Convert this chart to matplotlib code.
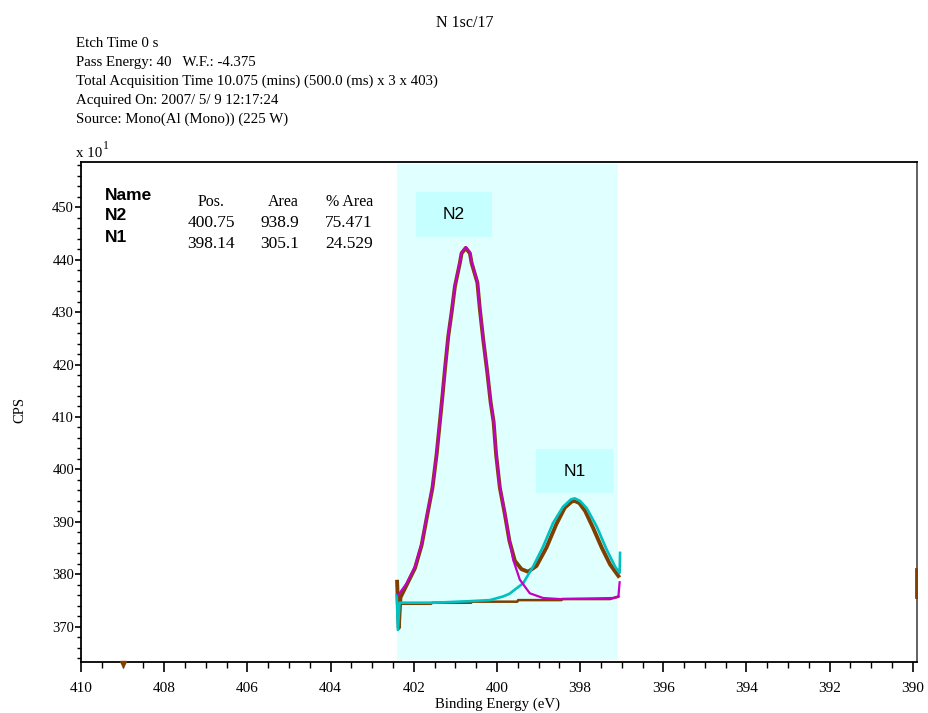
import matplotlib
matplotlib.use("Agg")
import matplotlib.pyplot as plt
from matplotlib.ticker import MultipleLocator

plt.rcParams['font.family'] = ['Liberation Serif', 'DejaVu Serif']

# header info
title = "N 1sc/17"
header_lines = ["Etch Time 0 s",
                "Pass Energy: 40   W.F.: -4.375",
                "Total Acquisition Time 10.075 (mins) (500.0 (ms) x 3 x 403)",
                "Acquired On: 2007/ 5/ 9 12:17:24",
                "Source: Mono(Al (Mono)) (225 W)"]

# peak table
peak_names = ["N2", "N1"]
peak_pos = ["400.75", "398.14"]
peak_area = ["938.9", "305.1"]
peak_pct = ["75.471", "24.529"]

# envelope (brown), CPS x 10
env_x = [402.40, 402.36, 402.32, 402.17, 401.97, 401.81, 401.69, 401.55, 401.45,
         401.37, 401.31, 401.25, 401.17, 401.09, 401.01, 400.89, 400.85, 400.75,
         400.65, 400.61, 400.47, 400.41, 400.33, 400.23, 400.15, 400.08, 400.02,
         399.93, 399.81, 399.70, 399.57, 399.41, 399.25, 399.05, 398.81, 398.57,
         398.37, 398.20, 398.13, 398.02, 397.88, 397.69, 397.48, 397.28, 397.08]
env_y = [378.6, 369.8, 375.6, 378.0, 381.2, 385.6, 390.7, 396.5, 402.9,
         409.2, 414.0, 419.1, 425.4, 429.9, 434.9, 439.4, 441.2, 442.2,
         441.2, 439.4, 435.6, 430.5, 424.8, 418.4, 412.7, 409.1, 402.9,
         396.5, 391.5, 386.4, 382.6, 381.0, 380.5, 381.6, 385.1, 389.6,
         392.7, 393.9, 394.0, 393.6, 392.1, 388.9, 385.1, 381.9, 379.7]

# N2 component (magenta)
n2_x = [402.37, 402.17, 401.97, 401.81, 401.69, 401.55, 401.45, 401.37, 401.31,
        401.25, 401.17, 401.09, 401.01, 400.89, 400.85, 400.75, 400.65, 400.61,
        400.47, 400.41, 400.33, 400.23, 400.15, 400.08, 400.02, 399.93, 399.81,
        399.70, 399.61, 399.45, 399.21, 398.89, 398.49, 397.80, 397.20, 397.08,
        397.05]
n2_y = [376.1, 378.3, 381.5, 385.9, 391.0, 396.7, 403.1, 409.3, 414.2,
        419.3, 425.6, 430.1, 435.1, 439.6, 441.4, 442.4, 441.4, 439.6,
        435.8, 430.7, 425.0, 418.6, 412.9, 409.3, 403.1, 396.7, 391.7,
        386.6, 382.8, 379.0, 376.4, 375.5, 375.3, 375.4, 375.5, 375.7,
        378.5]

# N1 component (cyan)
n1_x = [402.41, 402.38, 402.34, 401.50, 400.65, 400.17, 399.85, 399.70, 399.37,
        399.13, 398.89, 398.65, 398.41, 398.22, 398.13, 398.00, 397.84, 397.60,
        397.36, 397.16, 397.05, 397.04]
n1_y = [376.0, 369.4, 374.6, 374.6, 374.9, 375.1, 375.8, 376.3, 378.3,
        381.5, 385.3, 389.8, 392.9, 394.3, 394.5, 394.0, 392.6, 389.1,
        384.7, 381.5, 380.3, 384.1]

# background (brown, stepped)
bg_x = [402.35, 401.58, 401.56, 400.62, 400.60, 399.51, 399.49, 398.45, 398.43,
        397.28, 397.08]
bg_y = [374.4, 374.4, 374.6, 374.6, 374.8, 374.8, 375.1, 375.1, 375.3,
        375.3, 375.8]

# stray data bits near the frame
edge_x = [389.92, 389.92]
edge_y = [381.0, 375.6]

# fitted region and label boxes
region = (402.40, 397.09)
label_boxes = {"N2": (401.95, 400.12, 444.3, 452.9),
               "N1": (399.05, 397.20, 395.5, 403.9)}

brown = "#7f3f00"
magenta = "#c400c4"
cyan = "#00c0c0"

fig = plt.figure(figsize=(9.29, 7.13), dpi=100)
ax = fig.add_axes([0.0872, 0.0715, 0.8999, 0.7013])

ax.axvspan(region[0], region[1], ymin=0.004, ymax=0.995, color="#e0ffff", lw=0, zorder=0)
for name, (x0, x1, y0, y1) in label_boxes.items():
    ax.fill_between([x0, x1], y0, y1, color="#c6ffff", lw=0, zorder=1)
    ax.text((x0 + x1) / 2, (y0 + y1) / 2, name, family="Liberation Sans",
            fontsize=12.5, ha="center", va="center", zorder=2)

ax.plot(env_x, env_y, color=brown, lw=2.8, zorder=3, solid_joinstyle="round")
ax.plot(bg_x, bg_y, color=brown, lw=1.8, zorder=3)
ax.plot(n1_x, n1_y, color=cyan, lw=1.9, zorder=4, solid_joinstyle="round")
ax.plot(n2_x, n2_y, color=magenta, lw=1.6, zorder=5, solid_joinstyle="round")
ax.plot(edge_x, edge_y, color=brown, lw=2.0, zorder=6, clip_on=False)
ax.plot([409.0], [363.0], marker="v", color=brown, ms=4, clip_on=False, zorder=6)

ax.set_xlim(410, 389.9)
ax.set_ylim(363.3, 458.6)
ax.xaxis.set_major_locator(MultipleLocator(2))
ax.xaxis.set_minor_locator(MultipleLocator(0.5))
ax.yaxis.set_major_locator(MultipleLocator(10))
ax.yaxis.set_minor_locator(MultipleLocator(2))
ax.tick_params(axis="x", which="major", length=7.5, width=1.2, labelsize=11, pad=7)
ax.tick_params(axis="x", which="minor", length=4, width=1.0)
ax.tick_params(axis="y", which="major", length=4, width=1.2, labelsize=10.5, pad=1)
ax.tick_params(axis="y", which="minor", length=3, width=1.0)
ax.set_yticks(range(370, 451, 10))

for s in ["left", "bottom", "top"]:
    ax.spines[s].set_linewidth(1.3)
    ax.spines[s].set_color("black")
ax.spines["right"].set_linewidth(1.3)
ax.spines["right"].set_color("#555555")

# table
ty = [195, 216, 237]
vy = [202, 223, 244]
fig.text(105 / 929, 1 - ty[0] / 713, "Name", family="Liberation Sans", weight="bold",
         fontsize=12.5, va="center")
fig.text(211 / 929, 1 - vy[0] / 713, "Pos.", fontsize=11.5, ha="center", va="center")
fig.text(299 / 929, 1 - vy[0] / 713, "Area", fontsize=11.5, ha="right", va="center")
fig.text(373 / 929, 1 - vy[0] / 713, "% Area", fontsize=11.5, ha="right", va="center")
for i in range(len(peak_names)):
    fig.text(105 / 929, 1 - ty[i + 1] / 713, peak_names[i], family="Liberation Sans",
             weight="bold", fontsize=12.5, va="center")
    fig.text(211 / 929, 1 - vy[i + 1] / 713, peak_pos[i], fontsize=12.5, ha="center", va="center")
    fig.text(299 / 929, 1 - vy[i + 1] / 713, peak_area[i], fontsize=12.5, ha="right", va="center")
    fig.text(373 / 929, 1 - vy[i + 1] / 713, peak_pct[i], fontsize=12.5, ha="right", va="center")

# header
fig.text(465 / 929, 1 - 23 / 713, title, fontsize=11.5, ha="center", va="center")
for i, line in enumerate(header_lines):
    fig.text(76 / 929, 1 - (43.3 + 19 * i) / 713, line, fontsize=10.75, va="center")
fig.text(76 / 929, 1 - 157 / 713, "x 10", fontsize=10.75, va="baseline")
fig.text(103 / 929, 1 - 149 / 713, "1", fontsize=8.5, va="baseline")

fig.text(498 / 929, 1 - 704 / 713, "Binding Energy (eV)", fontsize=10.75, ha="center", va="center")
fig.text(20 / 929, 1 - 410 / 713, "CPS", fontsize=10.5, rotation=90, ha="center", va="center")

fig.savefig("out.png", dpi=100)
